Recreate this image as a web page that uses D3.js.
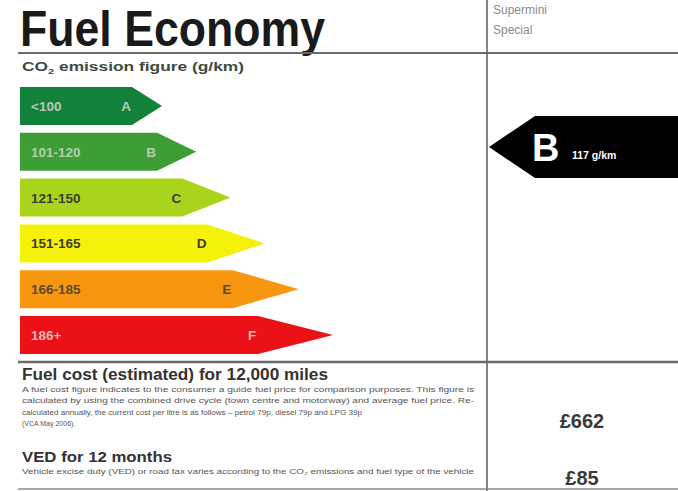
<!DOCTYPE html>
<html><head><meta charset="utf-8">
<script src="https://cdn.jsdelivr.net/npm/d3@7"></script>
<style>html,body{margin:0;padding:0;background:#fff}svg{display:block}</style>
</head><body>
<svg id="chart" width="678" height="491"></svg>
<script>
// ---- data ----
const bands = ["A", "B", "C", "D", "E", "F"];
const bandRanges = ["<100", "101-120", "121-150", "151-165", "166-185", "186+"];
const bandRank = [1, 2, 3, 4, 5, 6];
const bandColors = ["#12813a", "#3d9e35", "#a8d51c", "#f4f20a", "#f7960f", "#ec1116"];
const bandTextColors = ["#b9c9bd", "#b5cbb0", "#3b3d2a", "#3d3d24", "#5a4a2a", "#f0b8b8"];
const vehicleClass = ["Supermini", "Special"];
const vehicleBand = "B";
const vehicleCO2 = 117;
const fuelCost = 662;
const vedCost = 85;
const fuelCostNote = [
  "A fuel cost figure indicates to the consumer a guide fuel price for comparison purposes. This figure is",
  "calculated by using the combined drive cycle (town centre and motorway) and average fuel price. Re-",
  "calculated annually, the current cost per litre is as follows \u2013 petrol 79p, diesel 79p and LPG 39p",
  "(VCA May 2006)."
];
const vedNote = "Vehicle excise duty (VED) or road tax varies according to the CO\u2082 emissions and fuel type of the vehicle";

// ---- drawing ----
const svg = d3.select("#chart");
const FONT = "'Liberation Sans', Arial, sans-serif";

// title
svg.append("text").attr("x", 20).attr("y", 46)
  .attr("font-family", FONT).attr("font-weight", "bold").attr("font-size", 50)
  .attr("textLength", 305).attr("lengthAdjust", "spacingAndGlyphs")
  .attr("fill", "#1a1a1a").text("Fuel Economy");

// grid lines
svg.append("line").attr("x1", 18).attr("x2", 678).attr("y1", 53).attr("y2", 53)
  .attr("stroke", "#6a6a6a").attr("stroke-width", 2);
svg.append("line").attr("x1", 487).attr("x2", 487).attr("y1", 0).attr("y2", 491)
  .attr("stroke", "#5a5a5a").attr("stroke-width", 1.5);
svg.append("line").attr("x1", 18).attr("x2", 678).attr("y1", 362).attr("y2", 362)
  .attr("stroke", "#6a6a6a").attr("stroke-width", 2.5);
svg.append("line").attr("x1", 18).attr("x2", 678).attr("y1", 489).attr("y2", 489)
  .attr("stroke", "#8a8a8a").attr("stroke-width", 1.5);

// vehicle class
svg.selectAll("text.cls").data(vehicleClass).join("text").attr("class", "cls")
  .attr("x", 493).attr("y", (d, i) => 14 + i * 20)
  .attr("font-family", FONT).attr("font-size", 12).attr("fill", "#8a8a8a").text(d => d);

// CO2 heading
const co2 = svg.append("text").attr("x", 22).attr("y", 71)
  .attr("font-family", FONT).attr("font-weight", "bold").attr("font-size", 12.5)
  .attr("fill", "#3e4a40").attr("textLength", 222).attr("lengthAdjust", "spacingAndGlyphs");
co2.append("tspan").text("CO");
co2.append("tspan").attr("font-size", 8).attr("dy", 3).text("2");
co2.append("tspan").attr("dy", -3).text(" emission figure (g/km)");

// scales
const y = d3.scaleBand().domain(bands).range([87, 354]).paddingInner(0.17).paddingOuter(0);
const x = d3.scaleLinear().domain([1, 6]).range([162, 333]);
const tip = d3.scaleLinear().domain([1, 6]).range([30, 75]);
const x0 = 20;

const rows = bands.map((b, i) => ({ band: b, range: bandRanges[i], rank: bandRank[i], color: bandColors[i], tc: bandTextColors[i] }));
const g = svg.append("g");
const row = g.selectAll("g.row").data(rows).join("g").attr("class", "row");
row.append("path")
  .attr("d", d => {
    const t = y(d.band), h = y.bandwidth(), xe = x(d.rank), xb = xe - tip(d.rank);
    return `M${x0},${t}H${xb}L${xe},${t + h / 2}L${xb},${t + h}H${x0}Z`;
  })
  .attr("fill", d => d.color);
row.append("text").attr("x", 31).attr("y", d => y(d.band) + y.bandwidth() / 2 + 5)
  .attr("font-family", FONT).attr("font-weight", "bold").attr("font-size", 13.5)
  .attr("fill", d => d.tc).text(d => d.range);
row.append("text").attr("text-anchor", "middle")
  .attr("x", d => x(d.rank) - tip(d.rank) - 6).attr("y", d => y(d.band) + y.bandwidth() / 2 + 5)
  .attr("font-family", FONT).attr("font-weight", "bold").attr("font-size", 13.5)
  .attr("fill", d => d.tc).text(d => d.band);

// vehicle rating arrow (aligned with the right column)
const vy = d3.scaleLinear().domain([0, 1]).range([116, 178]);
const vt = vy(0), vb = vy(1), vm = (vt + vb) / 2;
svg.append("path").attr("d", `M489,${vm}L535,${vt}H678V${vb}H535Z`).attr("fill", "#000");
svg.append("text").attr("x", 532).attr("y", vm + 14)
  .attr("font-family", FONT).attr("font-weight", "bold").attr("font-size", 38)
  .attr("fill", "#fff").text(vehicleBand);
svg.append("text").attr("x", 572).attr("y", vm + 12)
  .attr("font-family", FONT).attr("font-weight", "bold").attr("font-size", 10.5)
  .attr("fill", "#fff").text(`${vehicleCO2} g/km`);

// fuel cost section
svg.append("text").attr("x", 22).attr("y", 380)
  .attr("font-family", FONT).attr("font-weight", "bold").attr("font-size", 16)
  .attr("textLength", 306).attr("lengthAdjust", "spacingAndGlyphs")
  .attr("fill", "#333").text("Fuel cost (estimated) for 12,000 miles");
const noteLen = [452, 452, 340, null];
fuelCostNote.forEach((t, i) => {
  const el = svg.append("text").attr("x", 22).attr("y", 392 + i * 11.3)
    .attr("font-family", FONT).attr("font-size", 7).attr("fill", "#555").text(t);
  if (noteLen[i]) el.attr("textLength", noteLen[i]).attr("lengthAdjust", "spacingAndGlyphs");
});
svg.append("text").attr("x", 22).attr("y", 462)
  .attr("font-family", FONT).attr("font-weight", "bold").attr("font-size", 15)
  .attr("textLength", 150).attr("lengthAdjust", "spacingAndGlyphs")
  .attr("fill", "#333").text("VED for 12 months");
svg.append("text").attr("x", 22).attr("y", 474)
  .attr("font-family", FONT).attr("font-size", 7).attr("fill", "#555")
  .attr("textLength", 452).attr("lengthAdjust", "spacingAndGlyphs").text(vedNote);

svg.append("text").attr("x", 582).attr("y", 428).attr("text-anchor", "middle")
  .attr("font-family", FONT).attr("font-weight", "bold").attr("font-size", 20)
  .attr("fill", "#3a3a3a").text(`£${fuelCost}`);
svg.append("text").attr("x", 582).attr("y", 485).attr("text-anchor", "middle")
  .attr("font-family", FONT).attr("font-weight", "bold").attr("font-size", 20)
  .attr("fill", "#3a3a3a").text(`£${vedCost}`);
</script>
</body></html>
